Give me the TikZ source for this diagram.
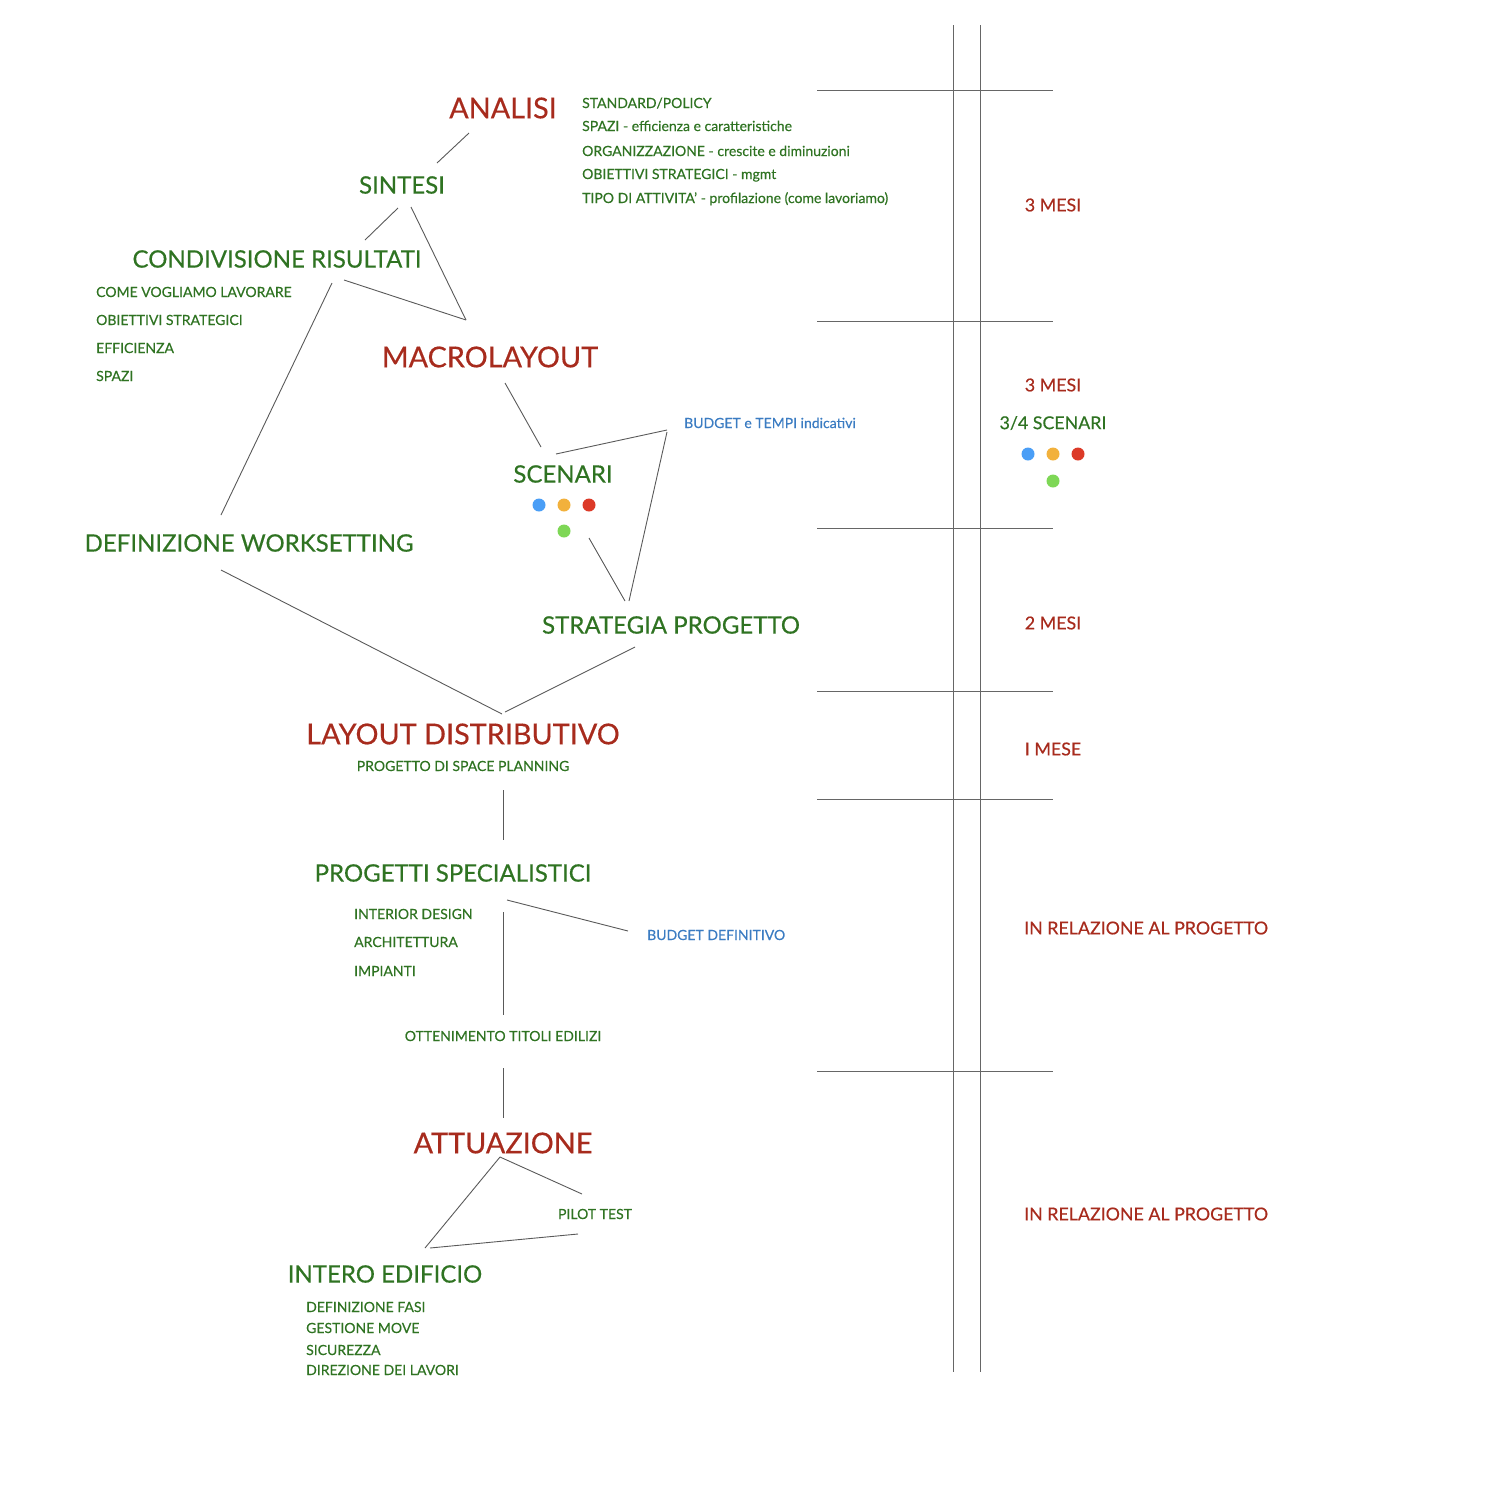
\documentclass[tikz,border=0pt]{standalone}
\usepackage{fontspec}
\setmainfont{Lato}[FakeBold=0.4]
\definecolor{ared}{HTML}{A72B1D}
\definecolor{agreen}{HTML}{2F7322}
\definecolor{ablue}{HTML}{3B7CC2}
\definecolor{dblue}{HTML}{4A9EF6}
\definecolor{dorange}{HTML}{F2B13C}
\definecolor{dred}{HTML}{DC3A28}
\definecolor{dgreen}{HTML}{7ED756}
\begin{document}
\begin{tikzpicture}[x=1pt,y=-1pt,
    phase/.style={font=\fontsize{28.8}{30}\selectfont, text=ared, inner sep=0pt},
    step title/.style={font=\fontsize{24}{26}\selectfont, text=agreen, inner sep=0pt},
    note/.style={font=\fontsize{14}{16}\selectfont, text=agreen, inner sep=0pt, anchor=base west},
    bnote/.style={font=\fontsize{14}{16}\selectfont, text=ablue, inner sep=0pt, anchor=base west},
    period/.style={font=\fontsize{17.8}{19}\selectfont, text=ared, inner sep=0pt},
    dot/.style={circle, inner sep=0pt, minimum size=13pt},
    conn/.style={draw=black!65, line width=0.9pt},
    rule/.style={draw=black!60, line width=0.8pt}]
    \useasboundingbox (0,0) rectangle (1500,1500);
    \draw[rule] (953,25) -- (953,1372);
    \draw[rule] (980,25) -- (980,1372);
    \foreach \y in {90,321,528,691,799,1071}
        \draw[rule] (817,\y) -- (1053,\y);
    \node[phase] (analisi) at (503,108) {ANALISI};
    \node[note] (an1) at (582,108) {STANDARD/POLICY};
    \node[note] (an2) at (582,131) {SPAZI - efficienza e caratteristiche};
    \node[note] (an3) at (582,156) {ORGANIZZAZIONE - crescite e diminuzioni};
    \node[note] (an4) at (582,179) {OBIETTIVI STRATEGICI - mgmt};
    \node[note] (an5) at (582,203) {TIPO DI ATTIVITA' - profilazione (come lavoriamo)};
    \node[step title] (sintesi) at (402,185) {SINTESI};
    \node[step title] (condivisione) at (277,259) {CONDIVISIONE RISULTATI};
    \node[note] (co1) at (96,297) {COME VOGLIAMO LAVORARE};
    \node[note] (co2) at (96,325) {OBIETTIVI STRATEGICI};
    \node[note] (co3) at (96,353) {EFFICIENZA};
    \node[note] (co4) at (96,381) {SPAZI};
    \node[phase] (macrolayout) at (490,357) {MACROLAYOUT};
    \node[step title] (scenari) at (563,474) {SCENARI};
    \node[dot, fill=dblue] (sc1) at (539,505) {};
    \node[dot, fill=dorange] (sc2) at (564,505) {};
    \node[dot, fill=dred] (sc3) at (589,505) {};
    \node[dot, fill=dgreen] (sc4) at (564,531) {};
    \node[bnote] (tempi) at (684,428) {BUDGET e TEMPI indicativi};
    \node[step title] (workset) at (249,543) {DEFINIZIONE WORKSETTING};
    \node[step title] (strategia) at (671,625) {STRATEGIA PROGETTO};
    \node[phase] (layout) at (463,734) {LAYOUT DISTRIBUTIVO};
    \node[note, anchor=base] (planning) at (463,771) {PROGETTO DI SPACE PLANNING};
    \node[step title] (progetti) at (453,873) {PROGETTI SPECIALISTICI};
    \node[note] (pr1) at (354,919) {INTERIOR DESIGN};
    \node[note] (pr2) at (354,947) {ARCHITETTURA};
    \node[note] (pr3) at (354,976) {IMPIANTI};
    \node[bnote] (budget) at (647,940) {BUDGET DEFINITIVO};
    \node[note, anchor=center] (titoli) at (503,1036) {OTTENIMENTO TITOLI EDILIZI};
    \node[phase] (attuazione) at (503,1143) {ATTUAZIONE};
    \node[note, anchor=center] (pilot) at (595,1214) {PILOT TEST};
    \node[step title] (intero) at (385,1274) {INTERO EDIFICIO};
    \node[note] (in1) at (306,1312) {DEFINIZIONE FASI};
    \node[note] (in2) at (306,1333) {GESTIONE MOVE};
    \node[note] (in3) at (306,1355) {SICUREZZA};
    \node[note] (in4) at (306,1375) {DIREZIONE DEI LAVORI};
    \node[period] (t1) at (1053,205) {3 MESI};
    \node[period] (t2) at (1053,385) {3 MESI};
    \node[period, text=agreen] (t2b) at (1053,423) {3/4 SCENARI};
    \node[dot, fill=dblue] (td1) at (1028,454) {};
    \node[dot, fill=dorange] (td2) at (1053,454) {};
    \node[dot, fill=dred] (td3) at (1078,454) {};
    \node[dot, fill=dgreen] (td4) at (1053,481) {};
    \node[period] (t3) at (1053,623) {2 MESI};
    \node[period] (t4) at (1053,749) {I MESE};
    \node[period, anchor=west] (t5) at (1024,928) {IN RELAZIONE AL PROGETTO};
    \node[period, anchor=west] (t6) at (1024,1214) {IN RELAZIONE AL PROGETTO};
    \draw[conn] ([shift={(-34,25)}]analisi.center) -- ([shift={(35,-22)}]sintesi.center);
    \draw[conn] ([shift={(-4,23)}]sintesi.center) -- ([shift={(88,-19)}]condivisione.center);
    \draw[conn] ([shift={(9,22)}]sintesi.center) -- ([shift={(-24,-37)}]macrolayout.center);
    \draw[conn] ([shift={(67,21)}]condivisione.center) -- ([shift={(-24,-37)}]macrolayout.center);
    \draw[conn] ([shift={(55,24)}]condivisione.center) -- ([shift={(-28,-28)}]workset.center);
    \draw[conn] ([shift={(15,26)}]macrolayout.center) -- ([shift={(-22,-27)}]scenari.center);
    \draw[conn] ([shift={(-7,-20)}]scenari.center) -- ([shift={(-17,2)}]tempi.base west);
    \draw[conn] ([shift={(-17,4)}]tempi.base west) -- ([shift={(-42,-24)}]strategia.center);
    \draw[conn] ([shift={(26,64)}]scenari.center) -- ([shift={(-46,-24)}]strategia.center);
    \draw[conn] ([shift={(-28,27)}]workset.center) -- ([shift={(39,-20)}]layout.center);
    \draw[conn] ([shift={(-36,22)}]strategia.center) -- ([shift={(42,-22)}]layout.center);
    \draw[conn] ([shift={(40,56)}]layout.center) -- ([shift={(50,-33)}]progetti.center);
    \draw[conn] ([shift={(54,27)}]progetti.center) -- ([shift={(-19,-9)}]budget.base west);
    \draw[conn] ([shift={(50,39)}]progetti.center) -- ([shift={(0,-21)}]titoli.center);
    \draw[conn] ([shift={(0,32)}]titoli.center) -- ([shift={(0,-25)}]attuazione.center);
    \draw[conn] ([shift={(-3,14)}]attuazione.center) -- ([shift={(40,-26)}]intero.center);
    \draw[conn] ([shift={(-3,14)}]attuazione.center) -- ([shift={(-13,-20)}]pilot.center);
    \draw[conn] ([shift={(-17,20)}]pilot.center) -- ([shift={(45,-26)}]intero.center);
\end{tikzpicture}
\end{document}
